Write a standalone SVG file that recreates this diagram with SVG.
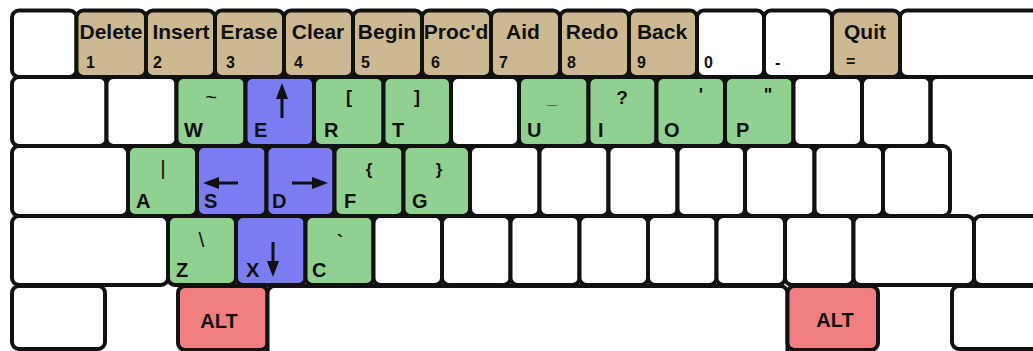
<svg xmlns="http://www.w3.org/2000/svg" width="1033" height="351" viewBox="0 0 1033 351">
<style>
.k{stroke:#111;stroke-width:4;}
.w{fill:#fff;}
.t{fill:#cdb991;}
.g{fill:#90d090;}
.b{fill:#7b7bf2;}
.r{fill:#f08080;}
text{font-family:"Liberation Sans",Arial,sans-serif;fill:#111;}
.lb{font-size:21px;font-weight:bold;text-anchor:middle;}
.num{font-size:16px;font-weight:bold;}
.let{font-size:20px;font-weight:bold;}
.sym{font-size:18px;font-weight:bold;text-anchor:middle;}
.thin{font-weight:normal;}
.arr{stroke:#111;stroke-width:3;fill:none;}
.ah{fill:#111;}
</style>
<rect width="1033" height="351" fill="#fff"/>

<!-- Row 1 -->
<g id="row1">
<rect class="k w" x="12" y="10.5" width="64.5" height="66.5" rx="7"/>
<g id="key-delete"><rect class="k t" x="76.5" y="10.5" width="69.5" height="66.5" rx="7"/><text class="lb" x="111" y="39">Delete</text><text class="num" x="86" y="68">1</text></g>
<g id="key-insert"><rect class="k t" x="146" y="10.5" width="69" height="66.5" rx="7"/><text class="lb" x="181" y="39">Insert</text><text class="num" x="153" y="68">2</text></g>
<g id="key-erase"><rect class="k t" x="215" y="10.5" width="69" height="66.5" rx="7"/><text class="lb" x="249" y="39">Erase</text><text class="num" x="226" y="68">3</text></g>
<g id="key-clear"><rect class="k t" x="284" y="10.5" width="69" height="66.5" rx="7"/><text class="lb" x="318" y="39">Clear</text><text class="num" x="294" y="68">4</text></g>
<g id="key-begin"><rect class="k t" x="353" y="10.5" width="69" height="66.5" rx="7"/><text class="lb" x="387" y="39">Begin</text><text class="num" x="361" y="68">5</text></g>
<g id="key-procd"><rect class="k t" x="422" y="10.5" width="69" height="66.5" rx="7"/><text class="lb" x="456" y="39">Proc'd</text><text class="num" x="431" y="68">6</text></g>
<g id="key-aid"><rect class="k t" x="491" y="10.5" width="69" height="66.5" rx="7"/><text class="lb" x="523" y="39">Aid</text><text class="num" x="499" y="68">7</text></g>
<g id="key-redo"><rect class="k t" x="560" y="10.5" width="69" height="66.5" rx="7"/><text class="lb" x="592" y="39">Redo</text><text class="num" x="567" y="68">8</text></g>
<g id="key-back"><rect class="k t" x="629" y="10.5" width="68" height="66.5" rx="7"/><text class="lb" x="662" y="39">Back</text><text class="num" x="637" y="68">9</text></g>
<g id="key-0"><rect class="k w" x="697" y="10.5" width="67" height="66.5" rx="7"/><text class="num" x="704" y="68">0</text></g>
<g id="key-minus"><rect class="k w" x="764" y="10.5" width="68" height="66.5" rx="7"/><text class="num" x="775" y="68">-</text></g>
<g id="key-quit"><rect class="k t" x="832" y="10.5" width="68" height="66.5" rx="7"/><text class="lb" x="865" y="39">Quit</text><text class="num" x="846" y="67">=</text></g>
<rect class="k w" x="900" y="10.5" width="160" height="66.5" rx="7"/>
</g>

<!-- Row 2 -->
<g id="row2">
<rect class="k w" x="12" y="77" width="94.5" height="69" rx="7"/>
<rect class="k w" x="106.5" y="77" width="70" height="69" rx="7"/>
<g id="key-w"><rect class="k g" x="176.5" y="77" width="69" height="69" rx="7"/><text class="sym thin" x="211" y="104" style="font-size:20px">~</text><text class="let" x="184" y="137">W</text></g>
<g id="key-e"><rect class="k b" x="245.5" y="77" width="68.5" height="69" rx="7"/><text class="let" x="254" y="137">E</text>
<line class="arr" x1="282" y1="96" x2="282" y2="118"/><polygon class="ah" points="282,83 276,99 288,99"/></g>
<g id="key-r"><rect class="k g" x="314" y="77" width="69.5" height="69" rx="7"/><text class="sym" x="349" y="103">[</text><text class="let" x="324" y="137">R</text></g>
<g id="key-t"><rect class="k g" x="383.5" y="77" width="67.5" height="69" rx="7"/><text class="sym" x="417" y="103">]</text><text class="let" x="392" y="137">T</text></g>
<rect class="k w" x="451" y="77" width="68" height="69" rx="7"/>
<g id="key-u"><rect class="k g" x="519" y="77" width="69.5" height="69" rx="7"/><text class="sym" x="552" y="104">_</text><text class="let" x="527" y="137">U</text></g>
<g id="key-i"><rect class="k g" x="588.5" y="77" width="68" height="69" rx="7"/><text class="sym" x="622" y="104" style="font-size:19px">?</text><text class="let" x="598" y="137">I</text></g>
<g id="key-o"><rect class="k g" x="656.5" y="77" width="68.5" height="69" rx="7"/><text class="sym" x="701" y="101">'</text><text class="let" x="664" y="137">O</text></g>
<g id="key-p"><rect class="k g" x="725" y="77" width="68.5" height="69" rx="7"/><text class="sym" x="768" y="101">"</text><text class="let" x="736" y="137">P</text></g>
<rect class="k w" x="793.5" y="77" width="68.5" height="69" rx="7"/>
<rect class="k w" x="862" y="77" width="68.5" height="69" rx="7"/>
<path class="k" fill="none" d="M930.5 84 Q930.5 77 937.5 77 M930.5 84 V139 Q930.5 146 937.5 146 H944"/>
</g>

<!-- Row 3 -->
<g id="row3">
<rect class="k w" x="12" y="146" width="116" height="70" rx="7"/>
<g id="key-a"><rect class="k g" x="128" y="146" width="69" height="70" rx="7"/><text class="sym thin" x="163" y="175" style="font-size:21px">|</text><text class="let" x="136" y="208">A</text></g>
<g id="key-s"><rect class="k b" x="197" y="146" width="69.5" height="70" rx="7"/><text class="let" x="204" y="208">S</text>
<line class="arr" x1="214" y1="183" x2="238" y2="183"/><polygon class="ah" points="203,183 219,177 219,189"/></g>
<g id="key-d"><rect class="k b" x="266.5" y="146" width="68" height="70" rx="7"/><text class="let" x="272" y="208">D</text>
<line class="arr" x1="292" y1="183" x2="317" y2="183"/><polygon class="ah" points="328,183 312,177 312,189"/></g>
<g id="key-f"><rect class="k g" x="334.5" y="146" width="69" height="70" rx="7"/><text class="sym" x="369" y="175" style="font-size:17px">{</text><text class="let" x="344" y="208">F</text></g>
<g id="key-g"><rect class="k g" x="403.5" y="146" width="66.5" height="70" rx="7"/><text class="sym" x="439" y="175" style="font-size:17px">}</text><text class="let" x="412" y="208">G</text></g>
<rect class="k w" x="470" y="146" width="69.5" height="70" rx="7"/>
<rect class="k w" x="539.5" y="146" width="69" height="70" rx="7"/>
<rect class="k w" x="608.5" y="146" width="69" height="70" rx="7"/>
<rect class="k w" x="677.5" y="146" width="67.5" height="70" rx="7"/>
<rect class="k w" x="745" y="146" width="69.5" height="70" rx="7"/>
<rect class="k w" x="814.5" y="146" width="68.5" height="70" rx="7"/>
<rect class="k w" x="883" y="146" width="67" height="70" rx="7"/>
</g>

<!-- Row 4 -->
<g id="row4">
<rect class="k w" x="12" y="216" width="156" height="69" rx="7"/>
<g id="key-z"><rect class="k g" x="168" y="216" width="68" height="69" rx="7"/><text class="sym thin" x="201.5" y="247" style="font-size:21px">\</text><text class="let" x="176" y="277">Z</text></g>
<g id="key-x"><rect class="k b" x="236" y="216" width="69.5" height="69" rx="7"/><text class="let" x="246" y="277">X</text>
<line class="arr" x1="273" y1="242" x2="273" y2="265"/><polygon class="ah" points="273,277 267,261 279,261"/></g>
<g id="key-c"><rect class="k g" x="305.5" y="216" width="68" height="69" rx="7"/><text class="sym" x="340" y="248">`</text><text class="let" x="312" y="277">C</text></g>
<rect class="k w" x="373.5" y="216" width="68.5" height="69" rx="7"/>
<rect class="k w" x="442" y="216" width="68.5" height="69" rx="7"/>
<rect class="k w" x="510.5" y="216" width="69" height="69" rx="7"/>
<rect class="k w" x="579.5" y="216" width="68.5" height="69" rx="7"/>
<rect class="k w" x="648" y="216" width="68.5" height="69" rx="7"/>
<rect class="k w" x="716.5" y="216" width="68.5" height="69" rx="7"/>
<rect class="k w" x="785" y="216" width="68.5" height="69" rx="7"/>
<rect class="k w" x="853.5" y="216" width="120.5" height="69" rx="7"/>
<rect class="k w" x="974" y="216" width="90" height="69" rx="7"/>
</g>

<!-- Row 5 -->
<g id="row5">
<rect class="k w" x="12" y="286" width="93" height="63" rx="7"/>
<g id="key-alt-left"><rect class="k r" x="178" y="286" width="89.5" height="64" rx="7"/><text class="let" x="219" y="328" text-anchor="middle">ALT</text></g>
<rect class="k w" x="267.5" y="286" width="520" height="72" rx="7"/>
<g id="key-alt-right"><rect class="k r" x="787.5" y="286" width="90.5" height="64" rx="7"/><text class="let" x="835" y="327" text-anchor="middle">ALT</text></g>
<rect class="k w" x="952" y="286" width="110" height="63" rx="7"/>
</g>
</svg>
